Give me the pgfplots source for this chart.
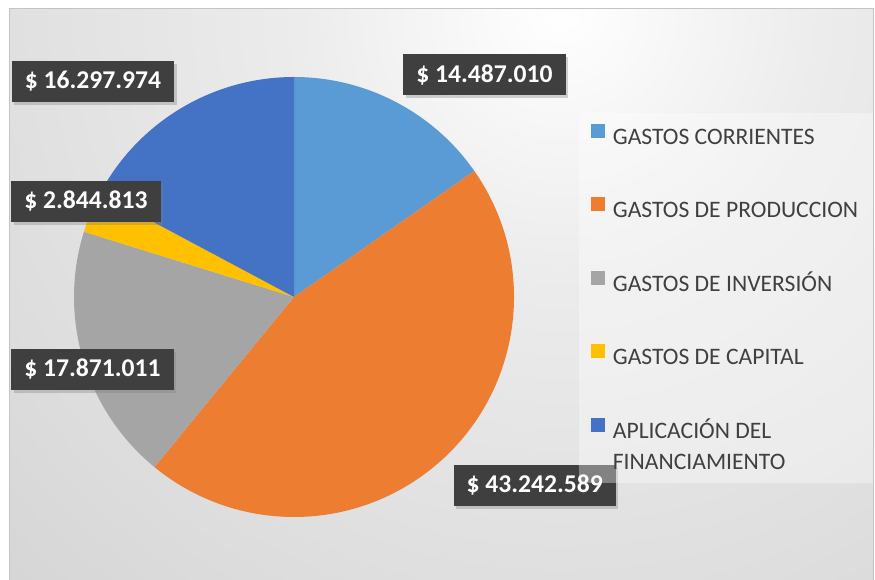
\documentclass[border=0pt]{standalone}
\usepackage{pgfplots}
\pgfplotsset{compat=1.18}
\usepackage{pgfplotstable}
\usepackage{fontspec}
\setmainfont{Carlito}
\usetikzlibrary{shadows}

\definecolor{cCorr}{HTML}{5B9BD5}
\definecolor{cProd}{HTML}{ED7D31}
\definecolor{cInv}{HTML}{A5A5A5}
\definecolor{cCap}{HTML}{FFC000}
\definecolor{cApl}{HTML}{4472C4}
\definecolor{lblfill}{HTML}{3F3F3F}
\definecolor{legtext}{HTML}{404040}
\definecolor{framecol}{HTML}{C4C4C4}
\definecolor{bgA}{HTML}{ECECEC}
\definecolor{bgB}{HTML}{D2D2D2}
\definecolor{bgC}{HTML}{C4C4C4}

\pgfdeclareradialshading{bgshade}{\pgfpoint{0bp}{0bp}}{%
  color(0bp)=(white); color(6.5bp)=(bgA); color(22bp)=(bgB); color(37.5bp)=(bgC); color(50bp)=(bgC)}

\tikzset{lbl/.style={fill=lblfill, text=white, font=\fontsize{25.6}{28}\selectfont\bfseries,
    minimum height=41pt, inner xsep=13pt, inner ysep=0pt,
    drop shadow={shadow xshift=2.5pt, shadow yshift=-3pt, opacity=0.35}}}

% values in millions of pesos
\pgfplotstableread{
value
14.487010
43.242589
17.871011
2.844813
16.297974
}\piedata

\newcommand\pieslice[3]{%
  \fill[#3] (axis cs:294,282) -- ([shift={(\csname pieang#1\endcsname:220pt)}]axis cs:294,282)
    arc[start angle=\csname pieang#1\endcsname, end angle=\csname pieang#2\endcsname, radius=220pt] -- cycle;}

\begin{document}
\begin{tikzpicture}
\useasboundingbox (0,0) rectangle (875pt,579pt);
\fill[white] (0,0) rectangle (875pt,579pt);
\begin{scope}
\clip (9pt,0pt) rectangle (873pt,570pt);
\shade[shading=bgshade] (560pt,569pt) circle (1000bp);
\end{scope}
\draw[framecol, line width=1pt] (9pt,-2pt) rectangle (873pt,570pt);

% total and angles from the table
\gdef\pietotal{0}
\foreach \i in {0,...,4}{%
  \pgfplotstablegetelem{\i}{value}\of\piedata
  \pgfmathsetmacro{\tmp}{\pietotal+\pgfplotsretval}%
  \global\let\pietotal\tmp
}
\expandafter\xdef\csname pieang0\endcsname{90}
\foreach \i in {0,...,4}{%
  \pgfplotstablegetelem{\i}{value}\of\piedata
  \pgfmathsetmacro{\tmp}{\csname pieang\i\endcsname - 360*\pgfplotsretval/\pietotal}%
  \pgfmathtruncatemacro{\j}{\i+1}%
  \expandafter\xdef\csname pieang\j\endcsname{\tmp}%
}

\begin{axis}[
  width=875pt, height=579pt, scale only axis,
  xmin=0, xmax=875, ymin=0, ymax=579,
  hide axis, clip=false,
  legend image code/.code={\fill[#1, draw=none] (0pt,1pt) rectangle (14pt,15pt);},
  legend cell align=left,
  legend style={at={(axis cs:591,455.5)}, anchor=north west, draw=none, fill=none,
    inner sep=0pt, row sep=48pt, column sep=7.7pt,
    font=\fontsize{23.6}{31}\selectfont, text=legtext,
    nodes={inner sep=0pt, outer sep=0pt, text height=16pt, text depth=5pt}},
]
\pieslice{0}{1}{cCorr}
\pieslice{1}{2}{cProd}
\pieslice{2}{3}{cInv}
\pieslice{3}{4}{cCap}
\pieslice{4}{5}{cApl}

\node[lbl] at (axis cs:484.5,504) {\$ 14.487.010};
\node[lbl] at (axis cs:534.7,93.5) {\$ 43.242.589};
\node[lbl] at (axis cs:92.5,209.5) {\$ 17.871.011};
\node[lbl] at (axis cs:86,377.7) {\$ 2.844.813};
\node[lbl] at (axis cs:93,497.7) {\$ 16.297.974};

\fill[white, opacity=0.35] (axis cs:579,96) rectangle (axis cs:873,466);

\addlegendimage{fill=cCorr}
\addlegendentry{GASTOS CORRIENTES}
\addlegendimage{fill=cProd}
\addlegendentry{GASTOS DE PRODUCCION}
\addlegendimage{fill=cInv}
\addlegendentry{GASTOS DE INVERSIÓN}
\addlegendimage{fill=cCap}
\addlegendentry{GASTOS DE CAPITAL}
\addlegendimage{fill=cApl}
\addlegendentry{\begin{tabular}[t]{@{}l@{}}APLICACIÓN DEL\\FINANCIAMIENTO\end{tabular}}
\end{axis}
\end{tikzpicture}
\end{document}
